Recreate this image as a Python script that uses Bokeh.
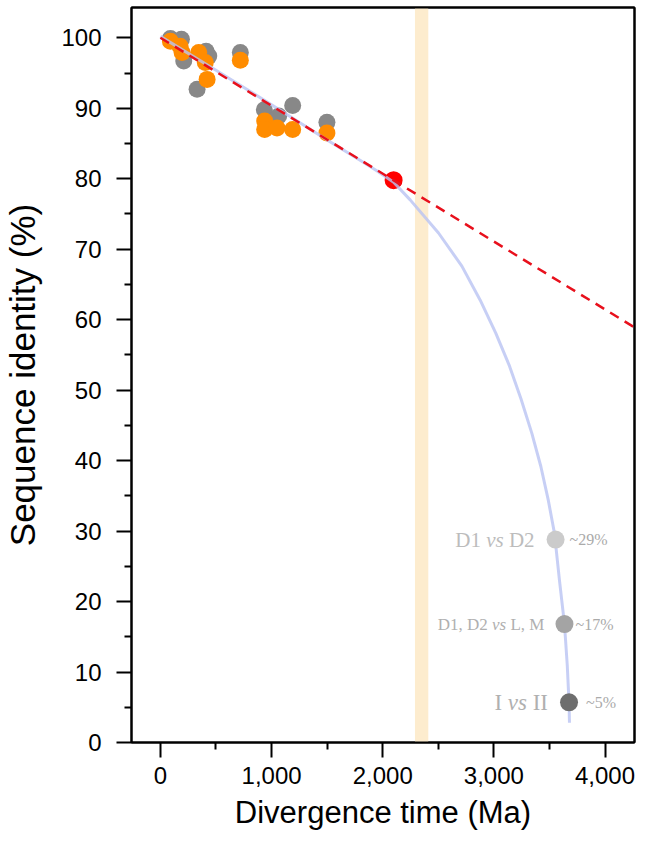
from bokeh.plotting import figure
from bokeh.models import FixedTicker, NumeralTickFormatter, Range1d, ColumnDataSource, LinearAxis
from bokeh.core.properties import value
from bokeh.embed import file_html
from bokeh.resources import INLINE

# ---- data ----
gray_x = [90, 189, 210, 330, 411, 435, 719, 935, 1064, 1190, 1498]
gray_y = [99.9, 99.8, 96.7, 92.7, 98.1, 97.4, 97.9, 89.8, 88.9, 90.4, 88.0]

orange_x = [90, 177, 195, 345, 404, 420, 719, 938, 938, 1049, 1190, 1498]
orange_y = [99.5, 98.8, 97.9, 97.9, 96.5, 94.1, 96.8, 88.2, 87.0, 87.2, 87.0, 86.5]

red_x = [2098]
red_y = [79.8]

# linear extrapolation (red dashed)
lin_x = [0, 4265]
lin_y = [100.0, 58.9]

# model curve (light blue)
curve_x = [0, 500, 1000, 1500, 1800, 1950, 2098, 2247, 2502, 2712, 2876, 3017,
           3141, 3245, 3341, 3422, 3488, 3545, 3590, 3635, 3660, 3676, 3680]
curve_y = [100.2, 95.4, 90.5, 85.5, 82.6, 81.1, 79.5, 77.0, 72.3, 67.6, 62.8, 58.1,
           53.4, 48.7, 43.9, 39.2, 34.5, 29.7, 23.0, 16.8, 11.0, 5.7, 2.8]

# highlighted band
band_left = [2290]
band_right = [2410]

# annotated comparisons
ann_x = [3555, 3635, 3676]
ann_y = [28.8, 16.8, 5.7]
ann_pct = ["~29%", "~17%", "~5%"]
ann_color = ["#cbcbcb", "#a4a4a4", "#6e6e6e"]

x_ticks = [0, 1000, 2000, 3000, 4000]
x_minor = [500, 1500, 2500, 3500]
y_ticks = [0, 10, 20, 30, 40, 50, 60, 70, 80, 90, 100]
y_minor = [5, 15, 25, 35, 45, 55, 65, 75, 85, 95]

Y_TOP = 104.3

# ---- figure ----
p = figure(width=632, height=847, frame_width=503, frame_height=735,
           output_backend="svg", toolbar_location=None,
           x_range=Range1d(-260, 4265), y_range=Range1d(0, Y_TOP),
           min_border_left=121, min_border_right=8, min_border_top=7, min_border_bottom=99)
p.grid.visible = False
p.outline_line_color = "black"
p.outline_line_width = 2
p.background_fill_color = "white"
p.border_fill_color = "white"

# band
p.quad(left=band_left, right=band_right, bottom=[0], top=[Y_TOP],
       fill_color="#fdecce", line_color=None)

# points
p.scatter(gray_x, gray_y, size=17, fill_color="#888888", line_color=None)
p.scatter(orange_x, orange_y, size=17, fill_color="#ff8c00", line_color=None)
p.scatter(red_x, red_y, size=18, fill_color="#ff0000", line_color=None)

# curves
p.line(curve_x, curve_y, line_color="#b9c3f2", line_width=3, line_alpha=0.8,
       line_join="round")
p.line(lin_x, lin_y, line_color="#e8101c", line_width=2.5, line_dash="10 7")

# annotation points
src = ColumnDataSource(dict(x=ann_x, y=ann_y, c=ann_color, pct=ann_pct))
p.scatter("x", "y", source=src, size=18, fill_color="c", line_color=None)

serif = value("Liberation Serif")

def label_parts(xv, yv, parts, size, color):
    # parts: list of (text, offset, italic), right aligned
    for txt, off, ital in parts:
        p.text(x=[xv], y=[yv], text=[txt], x_offset=off, text_align="right",
               text_baseline="middle", text_font=serif, text_font_size=size,
               text_font_style="italic" if ital else "normal", text_color=color)

fs1 = 21
label_parts(ann_x[0], ann_y[0],
            [("D2", -21, False), ("vs", -21 - 1.222 * fs1 - 0.25 * fs1, True),
             ("D1", -21 - 1.222 * fs1 - 0.5 * fs1 - 0.833 * fs1, False)],
            f"{fs1}px", "#bcbcbc")
fs2 = 17
label_parts(ann_x[1], ann_y[1],
            [("L, M", -20, False), ("vs", -20 - 2.0 * fs2 - 0.25 * fs2, True),
             ("D1, D2", -20 - 2.0 * fs2 - 0.5 * fs2 - 0.833 * fs2, False)],
            f"{fs2}px", "#b0b0b0")
fs3 = 23
label_parts(ann_x[2], ann_y[2],
            [("II", -21, False), ("vs", -21 - 0.666 * fs3 - 0.25 * fs3, True),
             ("I", -21 - 0.666 * fs3 - 0.5 * fs3 - 0.833 * fs3, False)],
            f"{fs3}px", "#b0b0b0")

for i, off in enumerate([14, 11, 17]):
    p.text(x=[ann_x[i]], y=[ann_y[i]], text=[ann_pct[i]], x_offset=off,
           text_align="left", text_baseline="middle", text_font=serif,
           text_font_size="16px", text_color="#aaaaaa")

# axes
for ax in (p.xaxis[0], p.yaxis[0]):
    ax.axis_line_width = 2
    ax.axis_line_color = "black"
    ax.major_tick_line_width = 2
    ax.minor_tick_line_width = 2
    ax.major_tick_out = 15
    ax.major_tick_in = 0
    ax.minor_tick_out = 7
    ax.minor_tick_in = 0
    ax.major_label_text_font = "Liberation Sans"
    ax.major_label_text_font_size = "24px"
    ax.major_label_text_color = "black"
    ax.axis_label_text_font = "Liberation Sans"
    ax.axis_label_text_font_style = "normal"
    ax.axis_label_text_color = "black"

p.xaxis.ticker = FixedTicker(ticks=x_ticks, minor_ticks=x_minor)
p.yaxis.ticker = FixedTicker(ticks=y_ticks, minor_ticks=y_minor)
p.xaxis.formatter = NumeralTickFormatter(format="0,0")
p.xaxis.major_label_standoff = 9
p.yaxis.major_label_standoff = 15
p.xaxis.axis_label = "Divergence time (Ma)"
p.yaxis.axis_label = "Sequence identity (%)"
p.xaxis.axis_label_text_font_size = "31px"
p.yaxis.axis_label_text_font_size = "35px"
p.xaxis.axis_label_standoff = 8
p.yaxis.axis_label_standoff = 16

# frame lines on top and right (no ticks)
for side in ("above", "right"):
    a = LinearAxis(ticker=FixedTicker(ticks=[]), major_label_text_font_size="0px",
                   major_tick_out=0, minor_tick_out=0, axis_line_width=2,
                   axis_line_color="black")
    p.add_layout(a, side)

open("out.html", "w").write(file_html(p, INLINE))
